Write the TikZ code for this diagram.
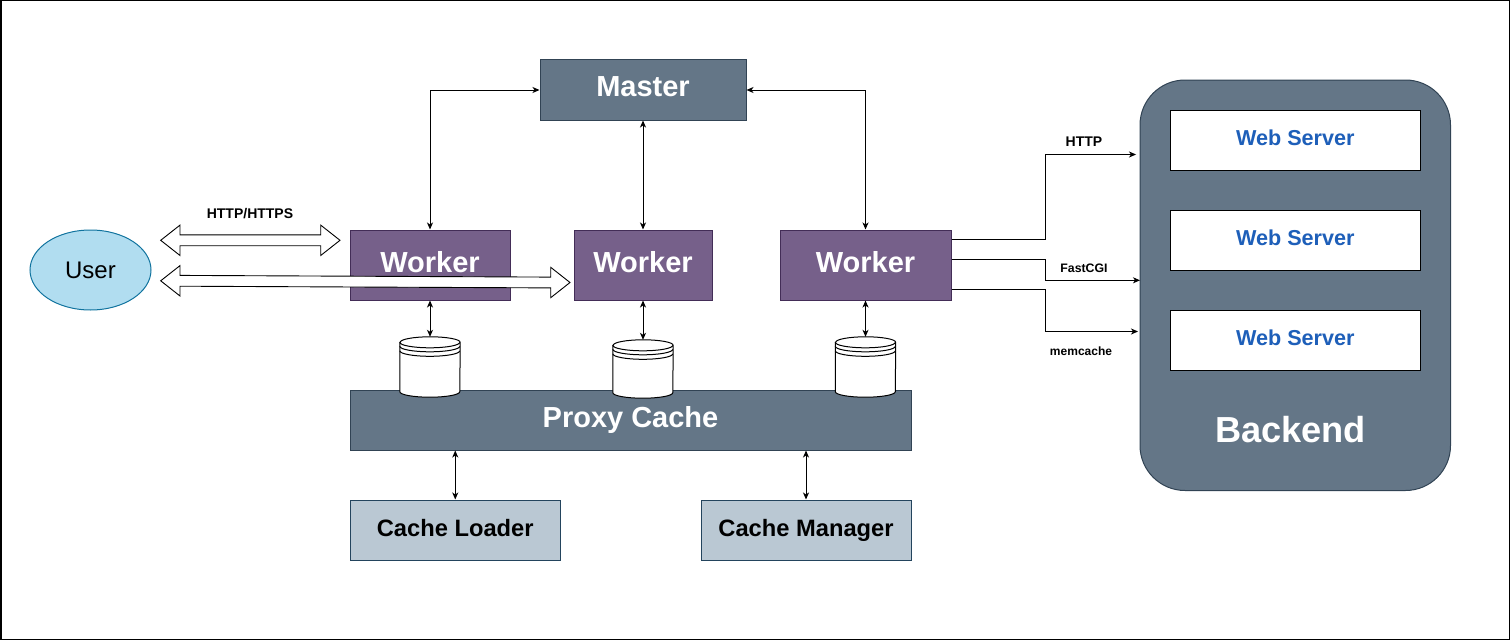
\documentclass[tikz,border=0pt]{standalone}
\usepackage{fontspec}
\setmainfont{Liberation Sans}
\usetikzlibrary{arrows.meta,calc,shapes.geometric}
\definecolor{slatefill}{HTML}{647687}
\definecolor{slateline}{HTML}{314354}
\definecolor{workfill}{HTML}{76608A}
\definecolor{workline}{HTML}{432D57}
\definecolor{userfill}{HTML}{B1DDF0}
\definecolor{userline}{HTML}{10739E}
\definecolor{cachefill}{HTML}{BAC8D3}
\definecolor{cacheline}{HTML}{23445D}
\definecolor{webtext}{HTML}{1E5FB9}
\newcommand\fsz[1]{\fontsize{#1}{#1}\selectfont}
\newcommand\mydstore[1]{%
  \filldraw[fill=white,draw=black,line width=1pt]
    ($(#1.north west)+(0,5.5)$) -- ($(#1.south west)+(0,-5.5)$)
    arc[start angle=180,end angle=360,x radius=30pt,y radius=5.5pt]
    -- ($(#1.north east)+(0,5.5)$)
    arc[start angle=0,end angle=180,x radius=30pt,y radius=5.5pt] -- cycle;
  \foreach \d in {5.5,9.5,14} {
    \draw[line width=1pt] ($(#1.north west)+(0,\d)$)
      arc[start angle=180,end angle=360,x radius=30pt,y radius=5.5pt];
  }%
}
\newcommand\hollowdbl[2]{%
  \filldraw[fill=white,draw=black,line width=0.9pt,line join=miter]
    (#1) -- ($(#1)+(19.3,-15.2)$) -- ($(#1)+(19.3,-5.4)$)
    -- ($(#2)+(-19.3,-5.4)$) -- ($(#2)+(-19.3,-15.2)$) -- (#2)
    -- ($(#2)+(-19.3,15.2)$) -- ($(#2)+(-19.3,5.4)$)
    -- ($(#1)+(19.3,5.4)$) -- ($(#1)+(19.3,15.2)$) -- cycle;
}
\begin{document}
\begin{tikzpicture}[x=1pt,y=-1pt,
  slatebox/.style={draw=slateline,fill=slatefill,line width=1pt,inner sep=0pt,
    text=white,font=\fsz{29}\bfseries},
  workbox/.style={draw=workline,fill=workfill,line width=1pt,inner sep=0pt,
    minimum height=70pt,text=white,font=\fsz{29}\bfseries,text depth=6pt},
  cachebox/.style={draw=cacheline,fill=cachefill,line width=1pt,inner sep=0pt,
    minimum width=210pt,minimum height=60pt,text=black,font=\fsz{23.7}\bfseries,text depth=4pt},
  webbox/.style={draw=black,fill=white,line width=1pt,inner sep=0pt,
    minimum width=250pt,minimum height=60pt,text=webtext,font=\fsz{21.6}\bfseries,text depth=4pt},
  cylnode/.style={inner sep=0pt,minimum width=60pt},
  conn/.style={line width=1pt,draw=black},
  biconn/.style={conn,{Stealth[length=7pt,width=6pt,inset=2pt]}-{Stealth[length=7pt,width=6pt,inset=2pt]}},
  oneconn/.style={conn,-{Stealth[length=7pt,width=6pt,inset=2pt]}},
  lbl/.style={inner sep=0pt,text=black,font=\fsz{14}\bfseries}
]
\useasboundingbox (0,0) rectangle (1511,642);
\draw[line width=1.5pt] (0.75,0.75) rectangle (1509.5,639.5);

% nodes
\node[slatebox,minimum width=206pt,minimum height=60pt,text depth=6pt] (master) at (643,90) {Master};
\node[workbox,minimum width=160pt] (w1) at (430,265) {Worker};
\node[workbox,minimum width=138pt] (w2) at (643,265) {Worker};
\node[workbox,minimum width=171pt] (w3) at (865.5,265) {Worker};
\node[ellipse,draw=userline,fill=userfill,line width=1pt,minimum width=121pt,minimum height=80pt,
  inner sep=0pt,font=\fsz{24}] (user) at (90.5,270) {User};
\node[slatebox,minimum width=561pt,minimum height=60pt] (proxy) at (630.5,420) {Proxy Cache};
\node[cachebox,minimum width=210.5pt] (loader) at (455.25,530) {Cache Loader};
\node[cachebox,minimum width=210pt] (manager) at (806,530) {Cache Manager};

% backend
\node[draw=slateline,fill=slatefill,line width=1pt,rounded corners=45pt,
  minimum width=310.5pt,minimum height=410.5pt,inner sep=0pt] (backend) at (1295.25,285.25) {};
\node[webbox] (ws1) at (1295.3,140) {Web Server};
\node[webbox] (ws2) at (1295.3,240) {Web Server};
\node[webbox] (ws3) at (1295.3,340) {Web Server};
\node[inner sep=0pt,text=white,font=\fsz{36.2}\bfseries] (blabel) at (1290.5,430) {Backend};

% data stores
\node[cylnode,minimum height=60pt] (c1) at (430,367) {};
\node[cylnode,minimum height=58pt] (c2) at (643,369) {};
\node[cylnode,minimum height=60pt] (c3) at (865.5,367) {};
\mydstore{c1}
\mydstore{c2}
\mydstore{c3}

% master connectors
\draw[biconn] (w1.north) |- (master.west);
\draw[biconn] (w2.north) -- (master.south);
\draw[biconn] (w3.north) |- (master.east);

% worker to stores
\draw[biconn] (w1.south) -- (c1.north);
\draw[biconn] (w2.south) -- (c2.north);
\draw[biconn] (w3.south) -- (c3.north);

% proxy to loader / manager
\draw[biconn] (loader.north) -- (loader.north |- proxy.south);
\draw[biconn] (manager.north) -- (manager.north |- proxy.south);

% user arrows
\coordinate (ua) at (160.7,240.3);
\coordinate (ub) at (340,240.3);
\coordinate (uc) at (160.7,280.8);
\coordinate (ud) at (570,282.5);
\hollowdbl{ua}{ub}
\hollowdbl{uc}{ud}
\node[lbl] (lhttps) at (250,214) {HTTP/HTTPS};

% backend connectors
\coordinate (httpend) at (1136,154.5);
\coordinate (fcgiend) at (1140,280.3);
\coordinate (memend) at (1138,331.5);
\draw[oneconn] ($(w3.north east)+(0,10)$) -| ($(httpend)+(-90.7,0)$) -- (httpend);
\draw[oneconn] ($(w3.north east)+(0,30)$) -| ($(fcgiend)+(-94.7,0)$) -- (fcgiend);
\draw[oneconn] ($(w3.north east)+(0,60)$) -| ($(memend)+(-92.7,0)$) -- (memend);
\node[lbl] (lhttp) at (1084,142) {HTTP};
\node[lbl,font=\fsz{12.3}\bfseries] (lfcgi) at (1084,268) {FastCGI};
\node[lbl,font=\fsz{12}\bfseries] (lmem) at (1081,351) {memcache};
\end{tikzpicture}
\end{document}
